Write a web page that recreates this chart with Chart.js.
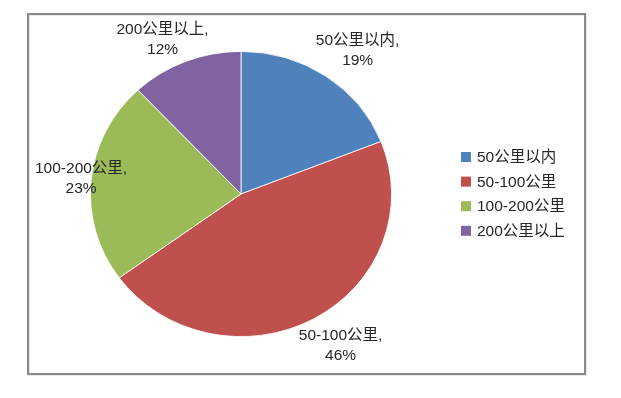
<!DOCTYPE html>
<html>
<head>
<meta charset="utf-8">
<script src="https://cdn.jsdelivr.net/npm/chart.js@4.4.1/dist/chart.umd.min.js"></script>
<style>
html,body{margin:0;padding:0;background:#fff;}
#wrap{position:absolute;left:0;top:0;width:621px;height:398px;}
</style>
</head>
<body>
<div id="wrap"><canvas id="c" width="621" height="398"></canvas></div>
<script>
const categories = ['50公里以内', '50-100公里', '100-200公里', '200公里以上'];
const shares = [19, 46, 23, 12];
const colors = ['#4F81BD', '#C0504D', '#9BBB59', '#8064A2'];

const FONT = '"Liberation Sans", "Noto Sans CJK SC", sans-serif';
const TEXT = '#262626';
const XSCALE = 1.056; // the reference pie is slightly wider than tall
// label offsets from the middle of each slice's outer edge
const labelShift = [[32, -25], [27, 27], [-10, -2], [-23, -22]];

const framePlugin = {
  id: 'frame',
  beforeDraw(chart) {
    const ctx = chart.ctx;
    ctx.save();
    ctx.fillStyle = '#fff';
    ctx.fillRect(0, 0, chart.width, chart.height);
    ctx.strokeStyle = '#e6e6e6';
    ctx.lineWidth = 2;
    ctx.strokeRect(29, 15, 557, 360);
    ctx.strokeStyle = '#8a8a8a';
    ctx.lineWidth = 2;
    ctx.strokeRect(28, 14, 557, 360);
    ctx.restore();
  }
};

const stretchPlugin = {
  id: 'stretch',
  beforeDatasetsDraw(chart) {
    const a = chart.chartArea;
    const cx = (a.left + a.right) / 2;
    const ctx = chart.ctx;
    ctx.save();
    ctx.translate(cx, 0);
    ctx.scale(XSCALE, 1);
    ctx.translate(-cx, 0);
  },
  afterDatasetsDraw(chart) {
    chart.ctx.restore();
  }
};

const labelPlugin = {
  id: 'sliceLabels',
  afterDatasetsDraw(chart) {
    const ctx = chart.ctx;
    const meta = chart.getDatasetMeta(0);
    ctx.save();
    ctx.font = '15.5px ' + FONT;
    ctx.fillStyle = TEXT;
    ctx.textAlign = 'center';
    ctx.textBaseline = 'middle';
    meta.data.forEach((arc, i) => {
      const p = arc.getProps(['x', 'y', 'startAngle', 'endAngle', 'outerRadius'], true);
      const mid = (p.startAngle + p.endAngle) / 2;
      const ex = p.x + Math.cos(mid) * p.outerRadius * XSCALE;
      const ey = p.y + Math.sin(mid) * p.outerRadius;
      const cx = ex + labelShift[i][0];
      const cy = ey + labelShift[i][1];
      ctx.fillText(chart.data.labels[i] + ',', cx, cy - 10);
      ctx.fillText(chart.data.datasets[0].data[i] + '%', cx, cy + 10);
    });
    // legend
    const lx = 461, ly0 = 157, step = 24.6;
    ctx.textAlign = 'left';
    chart.data.labels.forEach((lab, i) => {
      const y = ly0 + i * step;
      ctx.fillStyle = chart.data.datasets[0].backgroundColor[i];
      ctx.fillRect(lx, y - 5, 10, 10);
      ctx.fillStyle = TEXT;
      ctx.fillText(lab, lx + 16, y + 1);
    });
    ctx.restore();
  }
};

new Chart(document.getElementById('c'), {
  type: 'pie',
  data: {
    labels: categories,
    datasets: [{
      data: shares,
      backgroundColor: colors,
      borderColor: '#ffffff',
      borderWidth: 0.8
    }]
  },
  options: {
    responsive: false,
    animation: false,
    layout: { padding: { left: 98, top: 51, right: 237, bottom: 61 } },
    plugins: {
      legend: { display: false },
      tooltip: { enabled: false }
    }
  },
  plugins: [framePlugin, stretchPlugin, labelPlugin]
});
</script>
</body>
</html>
